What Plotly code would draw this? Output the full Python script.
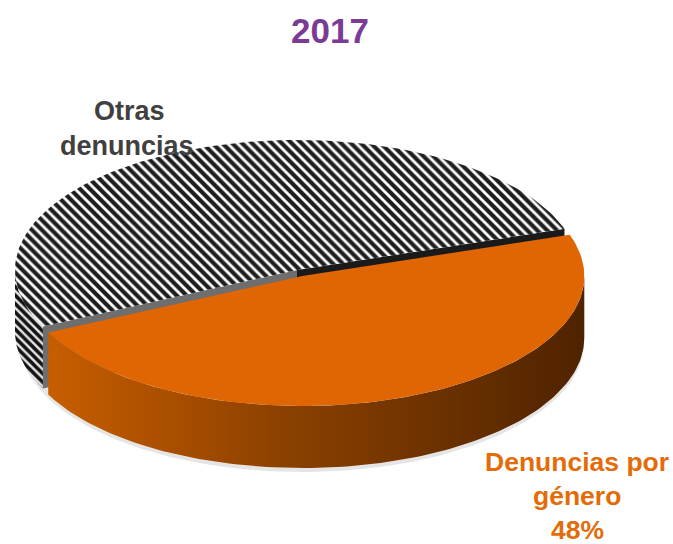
import numpy as np
import plotly.graph_objects as go

# ---------------- data ----------------
title_text = "2017"
categories = ["Otras denuncias", "Denuncias por género"]
values = [52, 48]
label_lines = [["Otras", "denuncias"], ["Denuncias por", "género"]]
show_pct = [False, True]

# ---------------- geometry / style ----------------
W, H = 673, 544
CX, CY = 297, 270          # centre of the top face (px)
RX, RY = 282, 130          # ellipse radii
DEPTH = 62                 # thickness of the pie
START = 18.5               # start angle (deg, counter-clockwise) of first slice
EXPLODE = [0.0, 0.05]      # explode fraction per slice
FONT = "Liberation Sans, Arial, sans-serif"

total = float(sum(values))
fracs = [v / total for v in values]


def pt(theta_deg, off=(0.0, 0.0), dz=0.0):
    t = np.radians(theta_deg)
    return CX + RX * np.cos(t) + off[0], CY - RY * np.sin(t) + off[1] + dz


def arc(a0, a1, off, dz=0.0, n=120):
    th = np.linspace(a0, a1, n)
    xs, ys = pt(th, off, dz)
    return list(xs), list(ys)


fig = go.Figure()

slices = []
a = START
for i, f in enumerate(fracs):
    a0, a1 = a, a + f * 360.0
    mid = np.radians((a0 + a1) / 2)
    off = (EXPLODE[i] * RX * np.cos(mid), -EXPLODE[i] * RY * np.sin(mid))
    slices.append((a0, a1, off))
    a = a1

pattern_top = dict(shape="\\", fgcolor="#1e1e1e", bgcolor="white", size=7, solidity=0.6, fgopacity=1)
pattern_side = dict(shape="\\", fgcolor="#141414", bgcolor="#e8e8e8", size=6, solidity=0.6, fgopacity=1)


def poly(xs, ys, **kw):
    fig.add_trace(go.Scatter(x=xs + [xs[0]], y=ys + [ys[0]], mode="lines",
                             line=dict(width=0), fill="toself",
                             hoverinfo="skip", showlegend=False, **kw))


# soft shadow under the front slice
shx, shy = arc(185, 355, slices[1][2], DEPTH + 4)
poly(shx, shy, fillcolor="rgba(0,0,0,0.10)")

for i, (a0, a1, off) in enumerate(slices):
    cxo, cyo = CX + off[0], CY + off[1]
    # radial (cut) faces
    for ang, normal, col in [(a0, a0 - 90, "#1a1a1a"), (a1, a1 + 90, "#6e6e6e")]:
        if np.sin(np.radians(normal)) < 0:
            px, py = pt(ang, off)
            poly([cxo, px, px, cxo], [cyo, py, py + DEPTH, cyo + DEPTH], fillcolor=col)
    # outer side face (front half only)
    for lo, hi in [(180, 360), (540, 720)]:
        s0, s1 = max(a0, lo), min(a1, hi)
        if s1 > s0:
            tx, ty = arc(s0, s1, off)
            bx, by = arc(s0, s1, off, DEPTH)
            if i == 0:
                poly(tx + bx[::-1], ty + by[::-1], fillcolor="white", fillpattern=pattern_side)
            else:
                poly(tx + bx[::-1], ty + by[::-1],
                     fillgradient=dict(type="horizontal",
                                       colorscale=[[0, "#c85d00"], [0.45, "#8a4000"], [1, "#4f2300"]]))
    # top face
    tx, ty = arc(a0, a1, off)
    if i == 0:
        poly([cxo] + tx, [cyo] + ty, fillcolor="white", fillpattern=pattern_top)
    else:
        poly([cxo] + tx, [cyo] + ty, fillcolor="#e06503")

# ---------------- labels ----------------
annotations = []
lab0 = [(129, 111), (127, 146)]
for (x, y), txt in zip(lab0, label_lines[0]):
    annotations.append(dict(x=x, y=y, text=f"<b>{txt}</b>", showarrow=False,
                            xanchor="center", yanchor="middle",
                            font=dict(family=FONT, size=27, color="#404040")))
lines1 = label_lines[1] + ([f"{round(values[1] / total * 100)}%"] if show_pct[1] else [])
lab1 = [(577, 462), (577, 496), (577, 530)]
for (x, y), txt in zip(lab1, lines1):
    annotations.append(dict(x=x, y=y, text=f"<b>{txt}</b>", showarrow=False,
                            xanchor="center", yanchor="middle",
                            font=dict(family=FONT, size=26.5, color="#e36c09")))
annotations.append(dict(x=330, y=30, text=f"<b>{title_text}</b>", showarrow=False,
                        xanchor="center", yanchor="middle",
                        font=dict(family=FONT, size=35, color="#7b3a94")))

fig.update_layout(
    width=W, height=H, margin=dict(l=0, r=0, t=0, b=0),
    paper_bgcolor="white", plot_bgcolor="white",
    xaxis=dict(range=[0, W], visible=False, fixedrange=True),
    yaxis=dict(range=[H, 0], visible=False, fixedrange=True),
    showlegend=False, annotations=annotations,
)

fig.write_html("out.html", config={"displayModeBar": False},
               post_script="document.body.style.margin='0';")
